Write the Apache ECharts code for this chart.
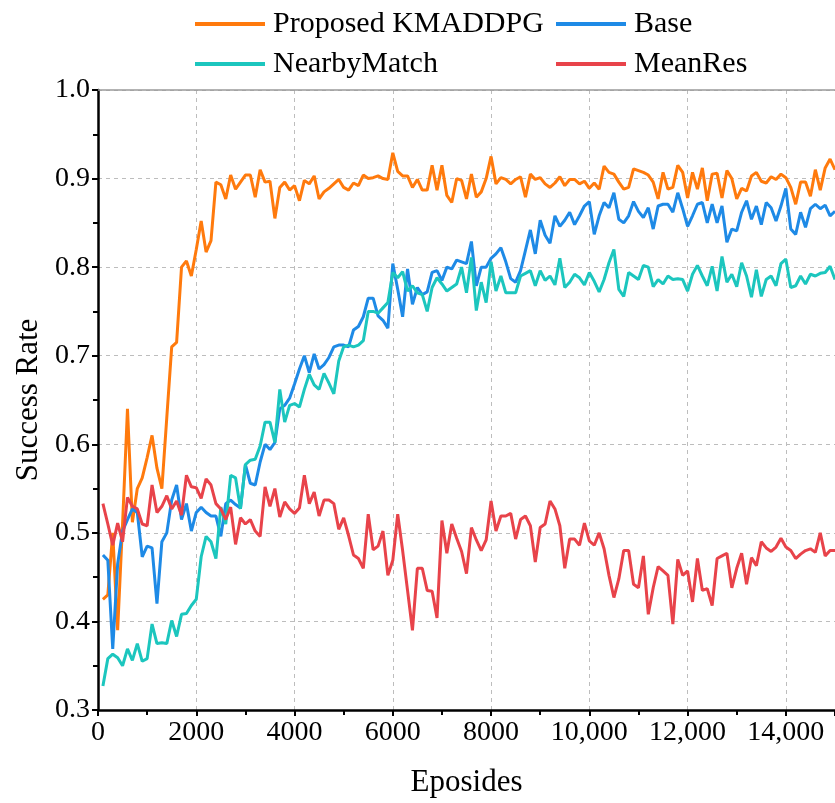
<!DOCTYPE html>
<html>
<head>
<meta charset="utf-8">
<script src="https://cdn.jsdelivr.net/npm/echarts@6/dist/echarts.min.js"></script>
<style>
  html, body { margin: 0; padding: 0; background: #fff; }
  #chart { width: 835px; height: 803px; }
</style>
</head>
<body>
<div id="chart"></div>
<script>
// episodes, one point every 100
var episodes = [];
for (var e = 100; e <= 15000; e += 100) episodes.push(e);

var kmaddpg = [
  0.425, 0.43, 0.50, 0.39, 0.51, 0.64, 0.512, 0.55, 0.562, 0.585,
  0.61, 0.573, 0.55, 0.63, 0.71, 0.715, 0.80, 0.807, 0.79, 0.82,
  0.852, 0.817, 0.83, 0.896, 0.893, 0.877, 0.904, 0.888, 0.896, 0.904,
  0.904, 0.879, 0.91, 0.896, 0.897, 0.855, 0.89, 0.896, 0.887, 0.892,
  0.875, 0.898, 0.894, 0.903, 0.877, 0.885, 0.889, 0.894, 0.899, 0.89,
  0.887, 0.895, 0.892, 0.904, 0.9, 0.901, 0.903, 0.9, 0.899, 0.929,
  0.908, 0.903, 0.903, 0.89, 0.899, 0.887, 0.887, 0.915, 0.887, 0.915,
  0.881, 0.873, 0.9, 0.898, 0.877, 0.905, 0.879, 0.885, 0.9, 0.925,
  0.894, 0.901, 0.899, 0.894, 0.899, 0.902, 0.879, 0.905, 0.899, 0.901,
  0.894, 0.89, 0.895, 0.902, 0.892, 0.899, 0.899, 0.894, 0.897, 0.889,
  0.895, 0.888, 0.914, 0.907, 0.905, 0.896, 0.888, 0.89, 0.911, 0.909,
  0.907, 0.904, 0.896, 0.877, 0.907, 0.888, 0.89, 0.915, 0.907, 0.878,
  0.907, 0.888, 0.912, 0.875, 0.905, 0.906, 0.878, 0.909, 0.9, 0.877,
  0.889, 0.886, 0.903, 0.907, 0.897, 0.895, 0.902, 0.899, 0.905, 0.901,
  0.89, 0.871, 0.896, 0.896, 0.88, 0.91, 0.887, 0.912, 0.922, 0.91
];

var base = [
  0.475, 0.469, 0.369, 0.465, 0.502, 0.515, 0.527, 0.523, 0.473, 0.485,
  0.483, 0.42, 0.49, 0.5, 0.537, 0.554, 0.515, 0.533, 0.502, 0.523,
  0.529, 0.523, 0.519, 0.519, 0.496, 0.533, 0.537, 0.532, 0.528, 0.577,
  0.556, 0.554, 0.58, 0.6, 0.594, 0.602, 0.64, 0.644, 0.652, 0.668,
  0.685, 0.70, 0.681, 0.702, 0.685, 0.69, 0.698, 0.71, 0.712, 0.712,
  0.71, 0.729, 0.733, 0.744, 0.765, 0.765, 0.745, 0.74, 0.731, 0.804,
  0.775, 0.744, 0.798, 0.758, 0.777, 0.769, 0.772, 0.794, 0.796, 0.785,
  0.8, 0.798, 0.808, 0.806, 0.804, 0.829, 0.779, 0.8, 0.8, 0.81,
  0.815, 0.822, 0.806, 0.787, 0.783, 0.796, 0.819, 0.842, 0.815, 0.853,
  0.836, 0.827, 0.858, 0.846, 0.853, 0.862, 0.848, 0.858, 0.869, 0.874,
  0.837, 0.858, 0.873, 0.867, 0.884, 0.854, 0.85, 0.858, 0.874, 0.863,
  0.856, 0.867, 0.843, 0.869, 0.871, 0.871, 0.862, 0.884, 0.866, 0.846,
  0.858, 0.871, 0.873, 0.85, 0.871, 0.85, 0.869, 0.828, 0.843, 0.841,
  0.862, 0.875, 0.854, 0.869, 0.848, 0.873, 0.867, 0.852, 0.869, 0.889,
  0.843, 0.837, 0.862, 0.845, 0.866, 0.871, 0.866, 0.87, 0.858, 0.863
];

var nearbyMatch = [
  0.327, 0.358, 0.363, 0.359, 0.35, 0.369, 0.356, 0.375, 0.355, 0.358,
  0.397, 0.375, 0.376, 0.375, 0.401, 0.383, 0.408, 0.409, 0.418, 0.425,
  0.473, 0.496, 0.49, 0.471, 0.529, 0.51, 0.565, 0.562, 0.527, 0.577,
  0.582, 0.583, 0.598, 0.625, 0.625, 0.602, 0.662, 0.625, 0.644, 0.646,
  0.642, 0.662, 0.679, 0.667, 0.662, 0.68, 0.669, 0.657, 0.694, 0.71,
  0.712, 0.71, 0.712, 0.717, 0.75, 0.75, 0.748, 0.754, 0.76, 0.794,
  0.788, 0.795, 0.773, 0.779, 0.771, 0.769, 0.75, 0.777, 0.788, 0.781,
  0.773, 0.777, 0.781, 0.8, 0.771, 0.811, 0.751, 0.783, 0.76, 0.806,
  0.773, 0.79, 0.771, 0.771, 0.771, 0.79, 0.793, 0.796, 0.779, 0.796,
  0.785, 0.79, 0.78, 0.81, 0.777, 0.783, 0.792, 0.788, 0.78, 0.794,
  0.784, 0.772, 0.786, 0.805, 0.82, 0.775, 0.767, 0.794, 0.79, 0.786,
  0.802, 0.8, 0.778, 0.786, 0.781, 0.79, 0.786, 0.787, 0.786, 0.773,
  0.792, 0.802, 0.79, 0.779, 0.801, 0.773, 0.812, 0.783, 0.792, 0.778,
  0.805, 0.79, 0.766, 0.797, 0.767, 0.786, 0.79, 0.779, 0.804, 0.809,
  0.777, 0.779, 0.79, 0.781, 0.792, 0.79, 0.793, 0.794, 0.801, 0.786
];

var meanRes = [
  0.533, 0.51, 0.486, 0.511, 0.49, 0.54, 0.53, 0.527, 0.51, 0.508,
  0.554, 0.523, 0.53, 0.542, 0.527, 0.536, 0.52, 0.565, 0.552, 0.551,
  0.539, 0.561, 0.554, 0.533, 0.527, 0.515, 0.529, 0.487, 0.517, 0.51,
  0.515, 0.502, 0.496, 0.552, 0.53, 0.55, 0.518, 0.535, 0.527, 0.522,
  0.528, 0.565, 0.533, 0.546, 0.519, 0.537, 0.537, 0.533, 0.504, 0.517,
  0.497, 0.475, 0.471, 0.46, 0.521, 0.481, 0.485, 0.502, 0.452, 0.469,
  0.521, 0.48, 0.435, 0.39, 0.46, 0.46, 0.435, 0.434, 0.404, 0.514,
  0.477, 0.51, 0.494, 0.479, 0.454, 0.506, 0.492, 0.48, 0.492, 0.536,
  0.502, 0.519, 0.519, 0.522, 0.493, 0.515, 0.519, 0.508, 0.467, 0.506,
  0.51, 0.536, 0.527, 0.508, 0.46, 0.493, 0.493, 0.486, 0.511, 0.491,
  0.486, 0.5, 0.482, 0.452, 0.427, 0.448, 0.48, 0.48, 0.442, 0.438,
  0.474, 0.408, 0.438, 0.462, 0.457, 0.452, 0.397, 0.47, 0.452, 0.457,
  0.422, 0.471, 0.435, 0.437, 0.418, 0.471, 0.474, 0.477, 0.438, 0.46,
  0.477, 0.442, 0.472, 0.463, 0.49, 0.483, 0.479, 0.484, 0.494, 0.484,
  0.48, 0.471, 0.476, 0.48, 0.482, 0.478, 0.5, 0.474, 0.48, 0.48
];

var seriesNames = ['Proposed KMADDPG', 'Base', 'NearbyMatch', 'MeanRes'];
var seriesColors = ['#FF7A0D', '#1E8AE6', '#1CC6BE', '#E8434A'];
var seriesData = [kmaddpg, base, nearbyMatch, meanRes];

var font = 'Liberation Serif';

function pairs(vals) {
  var out = [];
  for (var i = 0; i < vals.length; i++) out.push([episodes[i], vals[i]]);
  return out;
}

// one legend per item so the columns line up like the original
var legendPos = [[190, 4], [551, 4], [190, 44], [551, 44]];
var legends = seriesNames.map(function (n, i) {
  return {
    data: [{ name: n, icon: 'rect' }],
    left: legendPos[i][0],
    top: legendPos[i][1],
    itemWidth: 70,
    itemHeight: 4,
    textStyle: { fontFamily: font, fontSize: 30, color: '#000', padding: [0, 0, 0, 3] }
  };
});

var chart = echarts.init(document.getElementById('chart'));
chart.setOption({
  animation: false,
  backgroundColor: '#fff',
  legend: legends,
  grid: { left: 98, right: -2, top: 90, bottom: 92 },
  xAxis: [{
    type: 'value',
    min: 0,
    max: 15000,
    interval: 2000,
    name: 'Eposides',
    nameLocation: 'middle',
    nameGap: 57,
    nameTextStyle: { fontFamily: font, fontSize: 31, color: '#000' },
    axisLine: { lineStyle: { color: '#000', width: 2.5 } },
    axisTick: { show: true, length: 6, lineStyle: { color: '#000', width: 2 } },
    minorTick: { show: true, splitNumber: 2, length: 5, lineStyle: { color: '#000', width: 2 } },
    axisLabel: {
      fontFamily: font, fontSize: 28, color: '#000', margin: 9,
      formatter: function (v) { return v >= 10000 ? echarts.format.addCommas(v) : String(v); }
    },
    splitLine: { show: true, lineStyle: { color: '#bdbdbd', type: [4, 4], width: 1 } }
  }, {
    // plain top border of the frame
    type: 'value',
    position: 'top',
    min: 0,
    max: 15000,
    axisLine: { show: true, lineStyle: { color: '#9a9a9a', width: 1.5 } },
    axisTick: { show: false },
    axisLabel: { show: false },
    splitLine: { show: false }
  }],
  yAxis: {
    type: 'value',
    min: 0.3,
    max: 1.0,
    interval: 0.1,
    name: 'Success Rate',
    nameLocation: 'middle',
    nameGap: 53,
    nameTextStyle: { fontFamily: font, fontSize: 31, color: '#000' },
    axisLine: { show: true, lineStyle: { color: '#000', width: 2.5 } },
    axisTick: { show: true, length: 6, lineStyle: { color: '#000', width: 2 } },
    minorTick: { show: true, splitNumber: 2, length: 5, lineStyle: { color: '#000', width: 2 } },
    axisLabel: {
      fontFamily: font, fontSize: 28, color: '#000', margin: 8,
      formatter: function (v) { return v.toFixed(1); }
    },
    splitLine: { show: true, lineStyle: { color: '#bdbdbd', type: [4, 4], width: 1 } }
  },
  series: seriesNames.map(function (n, i) {
    return {
      name: n,
      type: 'line',
      xAxisIndex: 0,
      data: pairs(seriesData[i]),
      showSymbol: false,
      color: seriesColors[i],
      lineStyle: { width: 3, color: seriesColors[i] }
    };
  })
});
</script>
</body>
</html>
